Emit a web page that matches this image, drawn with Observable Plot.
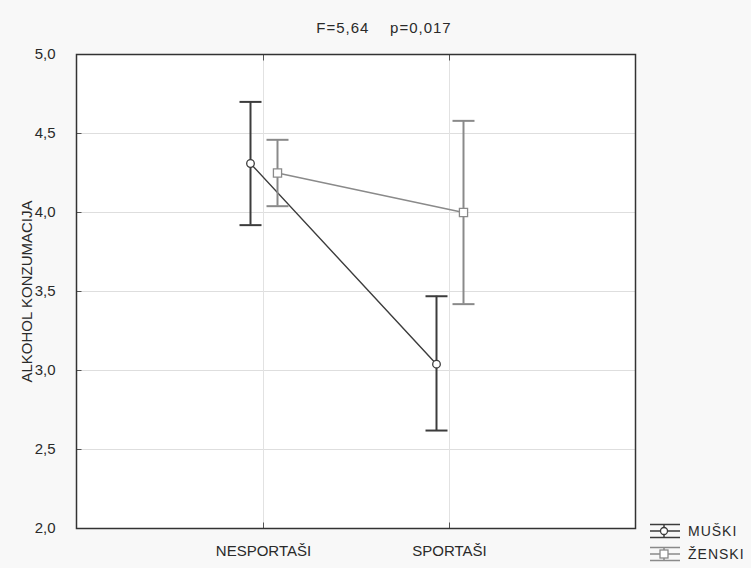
<!DOCTYPE html>
<html>
<head>
<meta charset="utf-8">
<script src="https://cdn.jsdelivr.net/npm/d3@7"></script>
<script src="https://cdn.jsdelivr.net/npm/@observablehq/plot@0.6"></script>
<style>
  html, body { margin: 0; padding: 0; background: #f8f8f8; }
  #wrap { position: relative; width: 751px; height: 568px; font-family: "Liberation Sans", Arial, sans-serif; color: #2a2a2a; }
  #title { position: absolute; left: 0; width: 768px; top: 19px; text-align: center; font-size: 15px; letter-spacing: 1px; white-space: pre; line-height: 17px; }
  #legend { position: absolute; left: 649px; top: 519px; font-size: 14px; letter-spacing: 1px; }
  .li { display: flex; align-items: center; height: 23px; }
  .li svg { margin-right: 7px; }
</style>
</head>
<body>
<div id="wrap">
  <div id="chart"></div>
  <div id="title"></div>
  <div id="legend"></div>
</div>
<script>
// ---- data ----
const groups = ["NESPORTAŠI", "SPORTAŠI"];
const series = ["MUŠKI", "ŽENSKI"];
const muskiMean = [4.31, 3.04];
const muskiLow  = [3.92, 2.62];
const muskiHigh = [4.70, 3.47];
const zenskiMean = [4.25, 4.00];
const zenskiLow  = [4.04, 3.42];
const zenskiHigh = [4.46, 4.58];
const yTicks = [2.0, 2.5, 3.0, 3.5, 4.0, 4.5, 5.0];
const titleText = "F=5,64    p=0,017";
const yLabel = "ALKOHOL KONZUMACIJA";

const colors = {"MUŠKI": "#3c3c3c", "ŽENSKI": "#8a8a8a"};
const offsets = {"MUŠKI": -13, "ŽENSKI": 14};

const rows = [];
groups.forEach((g, i) => {
  rows.push({group: g, series: "MUŠKI", mean: muskiMean[i], low: muskiLow[i], high: muskiHigh[i]});
  rows.push({group: g, series: "ŽENSKI", mean: zenskiMean[i], low: zenskiLow[i], high: zenskiHigh[i]});
});

const fmt = d => d3.format(".1f")(d).replace(".", ",");

// horizontal / vertical line symbols (error-bar caps and inward frame ticks)
const hSymbol = {
  draw(context, size) {
    const h = Math.sqrt(size / Math.PI);
    context.moveTo(-h, 0);
    context.lineTo(h, 0);
  }
};
const vSymbol = {
  draw(context, size) {
    const h = Math.sqrt(size / Math.PI);
    context.moveTo(0, -h);
    context.lineTo(0, h);
  }
};

const marks = [
  Plot.frame({fill: "white"}),
  Plot.ruleY(yTicks.slice(1, -1), {stroke: "#dedede", strokeWidth: 1}),
  Plot.ruleX(groups, {stroke: "#e2e2e2", strokeWidth: 1}),
  Plot.dot(yTicks.slice(1, -1), {y: d => d, frameAnchor: "left", dx: 2.5, symbol: hSymbol, r: 2.5, stroke: "#555", strokeWidth: 1}),
  Plot.dot(groups, {x: d => d, frameAnchor: "top", dy: 3, symbol: vSymbol, r: 3, stroke: "#555", strokeWidth: 1}),
  Plot.dot(groups, {x: d => d, frameAnchor: "bottom", dy: -3, symbol: vSymbol, r: 3, stroke: "#555", strokeWidth: 1}),
  Plot.axisY({ticks: yTicks, tickFormat: fmt, tickSize: 0, tickPadding: 21, fontSize: 15,
    label: yLabel, labelAnchor: "center", labelOffset: 55, labelArrow: "none"}),
  Plot.axisX({tickSize: 0, tickPadding: 17, fontSize: 15, label: null, style: {letterSpacing: "0.6px"}}),
];

for (const s of series) {
  const d = rows.filter(r => r.series === s);
  const c = colors[s], dx = offsets[s];
  marks.push(
    Plot.ruleX(d, {x: "group", y1: "low", y2: "high", dx, stroke: c, strokeWidth: 2}),
    Plot.dot(d, {x: "group", y: "high", dx, stroke: c, strokeWidth: 2, symbol: hSymbol, r: 11}),
    Plot.dot(d, {x: "group", y: "low", dx, stroke: c, strokeWidth: 2, symbol: hSymbol, r: 11}),
    Plot.line(d, {x: "group", y: "mean", dx, stroke: c, strokeWidth: 1.4}),
    Plot.dot(d, {x: "group", y: "mean", dx, stroke: c, fill: "white", strokeWidth: 1.3,
      symbol: s === "MUŠKI" ? "circle" : "square", r: s === "MUŠKI" ? 3.8 : 4.6})
  );
}
marks.push(Plot.frame({stroke: "#333", strokeWidth: 1.5}));

const chart = Plot.plot({
  width: 751, height: 568,
  marginLeft: 76, marginRight: 116, marginTop: 54, marginBottom: 40,
  style: {background: "transparent", fontFamily: "Liberation Sans, Arial, sans-serif", fontSize: "15px", color: "#2a2a2a"},
  x: {type: "point", domain: groups, padding: 1},
  y: {domain: [2, 5]},
  marks
});
document.getElementById("chart").appendChild(chart);
document.getElementById("title").textContent = titleText;

// legend
const leg = document.getElementById("legend");
for (const s of series) {
  const c = colors[s];
  const marker = s === "MUŠKI"
    ? `<circle cx="15" cy="8" r="3.5" fill="white" stroke="${c}" stroke-width="1.3"/>`
    : `<rect x="11" y="4" width="8" height="8" fill="white" stroke="${c}" stroke-width="1.3"/>`;
  const div = document.createElement("div");
  div.className = "li";
  div.innerHTML = `<svg width="32" height="16"><line x1="1" x2="31" y1="1.5" y2="1.5" stroke="${c}" stroke-width="1.5"/>
    <line x1="1" x2="31" y1="8" y2="8" stroke="${c}" stroke-width="1.5"/>
    <line x1="1" x2="31" y1="14.5" y2="14.5" stroke="${c}" stroke-width="1.5"/>
    <line x1="15" x2="15" y1="1.5" y2="14.5" stroke="${c}" stroke-width="1.5"/>${marker}</svg><span>${s}</span>`;
  leg.appendChild(div);
}
</script>
</body>
</html>
